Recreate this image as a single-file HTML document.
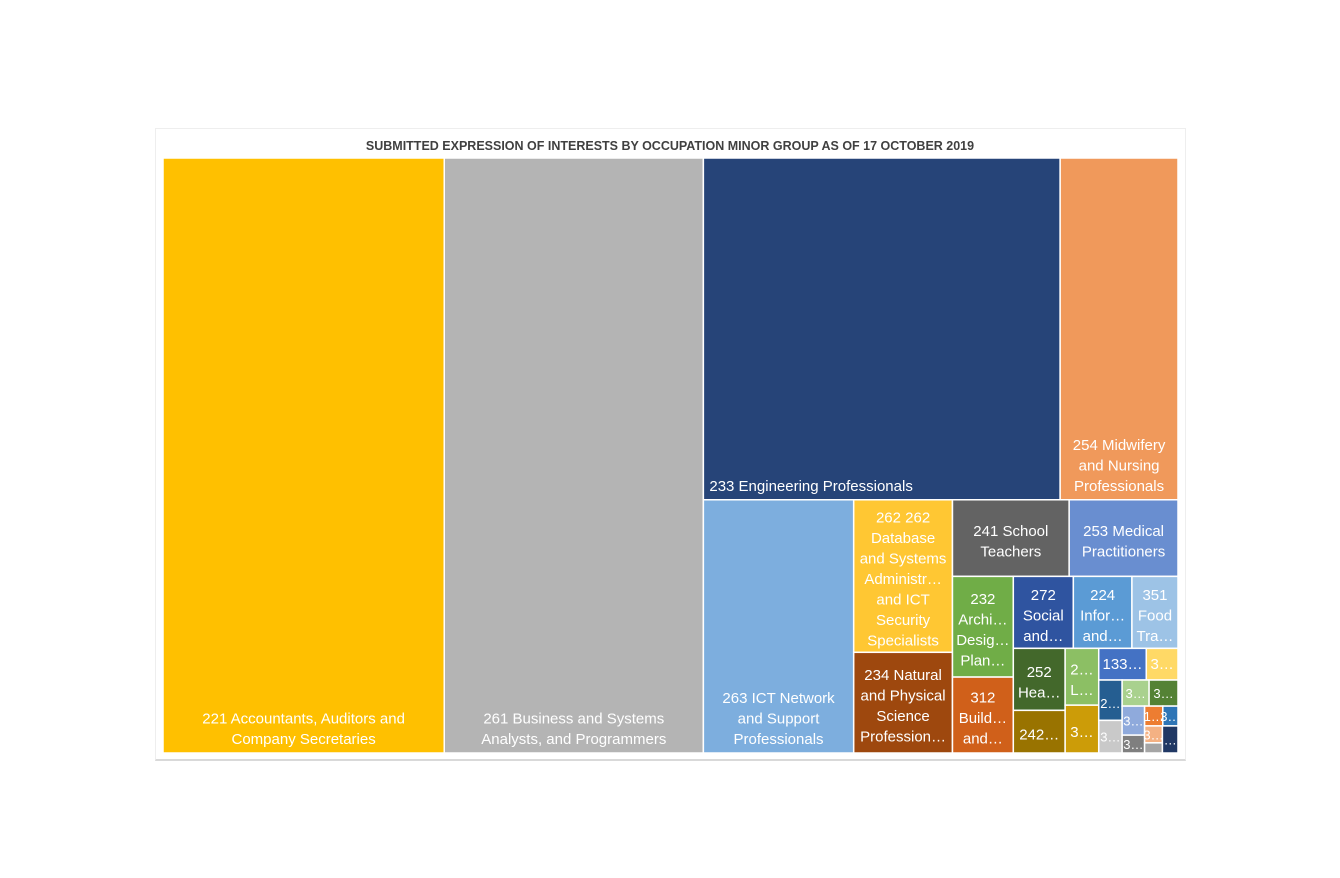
<!DOCTYPE html>
<html><head><meta charset="utf-8">
<style>
html,body{margin:0;padding:0;background:#fff;}
body{width:1340px;height:878px;position:relative;overflow:hidden;font-family:"Liberation Sans",sans-serif;}
#frame{position:absolute;left:155px;top:128px;width:1029px;height:630px;border:1px solid #eee;border-bottom:2px solid #d9d9d9;}
#title{position:absolute;left:155px;width:1030px;top:139px;text-align:center;font-size:12.5px;font-weight:bold;color:#404040;}
svg{position:absolute;left:0;top:0;}
</style></head><body>
<div id="frame"></div>
<div id="title">SUBMITTED EXPRESSION OF INTERESTS BY OCCUPATION MINOR GROUP AS OF 17 OCTOBER 2019</div>
<svg id="chart" width="1340" height="878"></svg>
<script>
const categories = ["221","261","233","254","263","262","234","241","253","232","312","272","224","351","252","242","2L","3gold","133","3yellow","2db","3lg","3lgreen","3green","3bluegray","3gray","1orange","3blue","lorange","sgray","navy"];
const values = [1666,1535,1214,401,379,150,99,89,83,61,46,43,42,33,32,22,19,16,15,10,9.4,7.6,7,7.5,6.5,4,3.6,3,3,1.8,4.2];
const labels = [
 ["221 Accountants, Auditors and","Company Secretaries"],
 ["261 Business and Systems","Analysts, and Programmers"],
 ["233 Engineering Professionals"],
 ["254 Midwifery","and Nursing","Professionals"],
 ["263 ICT Network","and Support","Professionals"],
 ["262 262","Database","and Systems","Administr…","and ICT","Security","Specialists"],
 ["234 Natural","and Physical","Science","Profession…"],
 ["241 School","Teachers"],
 ["253 Medical","Practitioners"],
 ["232","Archi…","Desig…","Plan…"],
 ["312","Build…","and…"],
 ["272","Social","and…"],
 ["224","Infor…","and…"],
 ["351","Food","Tra…"],
 ["252","Hea…"],
 ["242…"],
 ["2…","L…"],
 ["3…"],
 ["133…"],
 ["3…"],
 ["2…"],
 ["3…"],
 ["3…"],
 ["3…"],
 ["3…"],
 ["3…"],
 ["1…"],
 ["3…"],
 ["3…"],
 [""],
 ["…"]
];
const colors = ["#FFC000","#B4B4B4","#264478","#F0995B","#7DAEDE","#FFC733","#9E480E","#636363","#698ED0","#70AD47","#D0601A","#2F54A0","#5B9BD5","#9DC3E6","#43682B","#997300","#8CBF64","#CC9C08","#4472C4","#FFD966","#255E91","#C9C9C9","#A9D18E","#548235","#8FAADC","#7F7F7F","#ED7D31","#2E75B6","#F4B183","#A5A5A5","#203864"];
const bottomAligned = {0:1,1:1,2:1,3:1,4:1};
const tree = {d:'h',c:[0,1,{d:'v',c:[{d:'h',c:[2,3]},{d:'h',c:[4,{d:'v',c:[5,6]},{d:'v',c:[{d:'h',c:[7,8]},{d:'h',c:[{d:'v',c:[9,10]},{d:'v',c:[{d:'h',c:[11,12,13]},{d:'h',c:[{d:'v',c:[14,15]},{d:'v',c:[16,17]},{d:'v',c:[{d:'h',c:[18,19]},{d:'h',c:[{d:'v',c:[20,21]},{d:'v',c:[{d:'h',c:[22,23]},{d:'h',c:[{d:'v',c:[24,25]},{d:'v',c:[{d:'h',c:[26,27]},{d:'h',c:[{d:'v',c:[28,29]},30]}]}]}]}]}]}]}]}]}]}]}]}]};
const svg = document.getElementById('chart');
const NS = 'http://www.w3.org/2000/svg';
function total(n){return typeof n==='number'?values[n]:n.c.reduce((s,k)=>s+total(k),0);}
function layout(n,x,y,w,h){
  if(typeof n==='number'){draw(n,x,y,w,h);return;}
  const t=total(n);let off=0;
  n.c.forEach(k=>{const f=total(k)/t;
    if(n.d==='h'){layout(k,x+off,y,w*f,h);off+=w*f;}
    else{layout(k,x,y+off,w,h*f);off+=h*f;}});
}
function draw(i,x,y,w,h){
  const r=document.createElementNS(NS,'rect');
  r.setAttribute('x',x);r.setAttribute('y',y);r.setAttribute('width',Math.max(0,w));r.setAttribute('height',Math.max(0,h));
  r.setAttribute('fill',colors[i]);r.setAttribute('stroke','#fff');r.setAttribute('stroke-width','1.5');
  
  
  svg.appendChild(r);
  const lines=labels[i];const lh=20.5;const fs=15;
  const cx=x+w/2;
  let y0;
  if(bottomAligned[i]) y0=y+h-9-(lines.length-1)*lh;
  else y0=y+h/2-(lines.length-1)*lh/2+8;
  if(h<40) y0=y+h/2+5;
  const fsz = (w<30||h<30)?13:fs;
  lines.forEach((s,j)=>{
    const t=document.createElementNS(NS,'text');
    t.setAttribute('x', i===2? x+6 : cx);
    t.setAttribute('y',y0+j*lh);
    t.setAttribute('text-anchor', i===2?'start':'middle');
    t.setAttribute('font-size',fsz);t.setAttribute('fill','#fff');
    t.setAttribute('font-family','"Liberation Sans",sans-serif');
    t.textContent=s;
    
    
    svg.appendChild(t);
  });
}
layout(tree,163,158,1015,595);
</script>
</body></html>
